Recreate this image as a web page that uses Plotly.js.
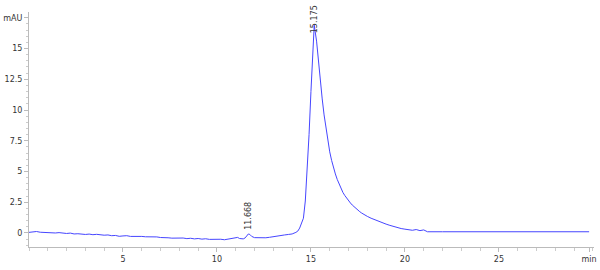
<!DOCTYPE html>
<html><head><meta charset="utf-8">
<script src="https://cdn.plot.ly/plotly-3.0.1.min.js"></script>
<style>html,body{margin:0;padding:0;background:#fff}#c{width:600px;height:270px}</style>
</head><body><div id="c"></div>
<script>
const timeMin = [0.0,0.2,0.4,0.6,0.8,1.0,1.2,1.4,1.6,1.8,2.0,2.2,2.4,2.6,2.8,3.0,3.2,3.4,3.6,3.8,4.0,4.2,4.4,4.6,4.8,5.0,5.2,5.4,5.6,5.8,6.0,6.2,6.4,6.6,6.8,7.0,7.2,7.4,7.6,7.8,8.0,8.2,8.4,8.6,8.8,9.0,9.2,9.4,9.6,9.8,10.0,10.2,10.4,10.6,10.8,11.0,11.1,11.2,11.4,11.5,11.6,11.67,11.75,11.85,12.0,12.2,12.4,12.6,12.8,13.0,13.2,13.4,13.6,13.8,14.0,14.2,14.3,14.4,14.5,14.6,14.7,14.8,14.9,15.0,15.1,15.175,15.3,15.4,15.5,15.6,15.7,15.8,15.9,16.0,16.1,16.2,16.3,16.4,16.5,16.6,16.7,16.8,16.9,17.0,17.1,17.2,17.3,17.4,17.5,17.6,17.7,17.8,17.9,18.0,18.2,18.4,18.6,18.8,19.0,19.2,19.4,19.6,19.8,20.0,20.2,20.4,20.6,20.8,21.0,21.1,21.2,22,24,26,28,29.8];
const absorbance = [0.05,0.08,0.12,0.06,0.04,0.07,0.02,0.0,0.03,-0.02,-0.04,-0.01,-0.08,-0.06,-0.1,-0.12,-0.09,-0.14,-0.11,-0.15,-0.18,-0.16,-0.22,-0.2,-0.27,-0.24,-0.22,-0.28,-0.26,-0.3,-0.28,-0.31,-0.3,-0.34,-0.32,-0.37,-0.35,-0.39,-0.42,-0.4,-0.44,-0.41,-0.46,-0.43,-0.48,-0.45,-0.5,-0.47,-0.52,-0.5,-0.54,-0.51,-0.55,-0.49,-0.42,-0.33,-0.36,-0.45,-0.48,-0.4,-0.2,-0.08,-0.12,-0.28,-0.38,-0.4,-0.37,-0.39,-0.35,-0.3,-0.2,-0.18,-0.16,-0.12,-0.08,0.05,0.15,0.4,0.8,1.2,2.6,5.0,8.0,11.5,15.0,16.9,15.6,13.9,12.3,10.9,9.6,8.5,7.5,6.6,5.9,5.3,4.8,4.35,3.95,3.6,3.3,3.05,2.82,2.62,2.44,2.27,2.12,1.98,1.85,1.73,1.62,1.52,1.43,1.35,1.2,1.07,0.95,0.84,0.72,0.62,0.52,0.43,0.36,0.31,0.27,0.22,0.28,0.19,0.25,0.15,0.1,0.1,0.1,0.1,0.1,0.1];
const peakTimes = [11.668, 15.175];
const peakLabels = ['11.668', '15.175'];
const peakLabelY = [0.12, 16.1];
const xTickVals = [5,10,15,20,25,29.8];
const xTickText = ['5','10','15','20','25','min'];
const yTickVals = [0,2.5,5,7.5,10,12.5,15,17.5];
const yTickText = ['0','2.5','5','7.5','10','12.5','15','mAU'];

const font = {family:'DejaVu Sans, Verdana, sans-serif', size:8, color:'#333'};
const trace = {x:timeMin, y:absorbance, type:'scatter', mode:'lines',
  line:{color:'rgb(70,70,255)', width:1}, hoverinfo:'skip'};
const annotations = peakTimes.map((t,i)=>({x:t, y:peakLabelY[i], xref:'x', yref:'y',
  text:peakLabels[i], showarrow:false, textangle:-90, yanchor:'bottom', xanchor:'center',
  font:font}));
const layout = {
  width:600, height:270, margin:{l:29, r:6, t:12, b:23},
  paper_bgcolor:'#fff', plot_bgcolor:'#fff', showlegend:false,
  xaxis:{range:[0,30.06], showgrid:false, zeroline:false, showline:true, linecolor:'#bbb', linewidth:1,
    ticks:'outside', ticklen:4, tickcolor:'#bbb', tickvals:xTickVals, ticktext:xTickText,
    ticklabeloverflow:'allow', tickfont:font,
    minor:{dtick:1, ticks:'outside', ticklen:3, tickcolor:'#ccc', showgrid:false}},
  yaxis:{range:[-1.14,17.97], showgrid:false, zeroline:false, showline:true, linecolor:'#bbb', linewidth:1,
    ticks:'outside', ticklen:4, tickcolor:'#bbb', tickvals:yTickVals, ticktext:yTickText,
    ticklabeloverflow:'allow', tickfont:font,
    minor:{dtick:0.5, ticks:'outside', ticklen:2, tickcolor:'#ccc', showgrid:false}},
  annotations:annotations
};
Plotly.newPlot('c',[trace],layout,{staticPlot:true, displayModeBar:false});
</script></body></html>
